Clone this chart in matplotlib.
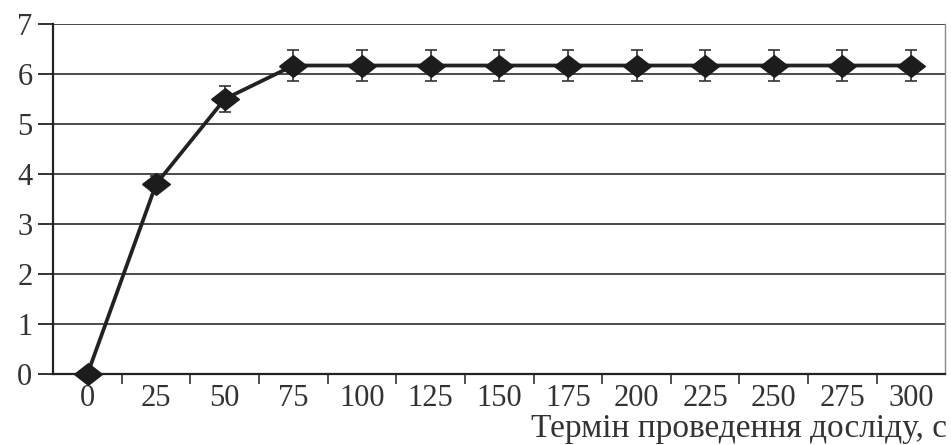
import numpy as np
import matplotlib.pyplot as plt

plt.rcParams['font.family'] = ['Liberation Serif', 'DejaVu Serif']

# терміни досліду, с
days = ['0', '25', '50', '75', '100', '125', '150', '175', '200', '225', '250', '275', '300']
values = [0.0, 3.8, 5.5, 6.17, 6.17, 6.17, 6.17, 6.17, 6.17, 6.17, 6.17, 6.17, 6.17]
errors = [0.0, 0.15, 0.26, 0.31, 0.31, 0.31, 0.31, 0.31, 0.31, 0.31, 0.31, 0.31, 0.31]
yticks = [0, 1, 2, 3, 4, 5, 6, 7]
xlabel = 'Термін проведення досліду, с'

fig = plt.figure(figsize=(9.51, 4.45), dpi=100)
ax = fig.add_axes([0.056, 0.16, 0.938, 0.786])

x = np.arange(len(days))
for y in yticks[1:]:
    ax.axhline(y, color='#4a4a4a', lw=1.4, zorder=1)

diamond = [(-1, 0), (0, 0.78), (1, 0), (0, -0.78), (-1, 0)]
ax.errorbar(x, values, yerr=errors, color='#222222', lw=2.7,
            marker=diamond, markersize=20, markerfacecolor='#1c1c1c',
            markeredgecolor='#1c1c1c', ecolor='#333333', elinewidth=1.2,
            capsize=4.5, capthick=1.2, zorder=3, clip_on=False)

ax.set_xlim(-0.5, len(days) - 0.5)
ax.set_ylim(0, 7)
ax.set_yticks(yticks)
ax.set_xticks(x)
ax.set_xticklabels(days)
ax.set_xticks(x[:-1] + 0.5, minor=True)
ax.tick_params(axis='x', which='major', length=0, pad=7, labelsize=22, colors='#333333')
ax.tick_params(axis='x', which='minor', length=7, width=1.2, direction='out', color='#333333')
ax.tick_params(axis='y', length=11, width=1.4, pad=4, labelsize=22, colors='#333333')

ax.spines['top'].set_visible(False)
ax.spines['left'].set_color('#222222')
ax.spines['left'].set_linewidth(1.6)
ax.spines['bottom'].set_color('#222222')
ax.spines['bottom'].set_linewidth(1.6)
ax.spines['right'].set_color('#8a8a8a')
ax.spines['right'].set_linewidth(1.0)

fig.text(0.996, 0.036, xlabel, ha='right', va='center', fontsize=24, color='#333333')

fig.savefig('out.png', dpi=100)
